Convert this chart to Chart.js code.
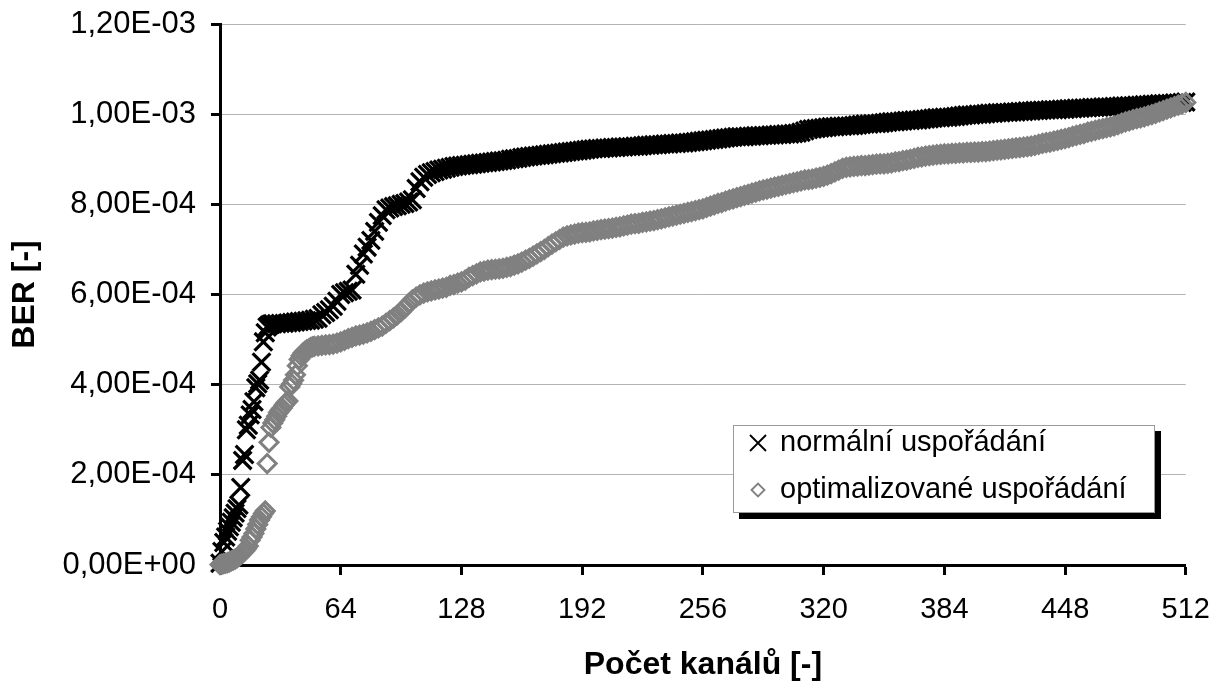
<!DOCTYPE html>
<html>
<head>
<meta charset="utf-8">
<script src="https://cdn.jsdelivr.net/npm/chart.js@4.4.0/dist/chart.umd.min.js"></script>
<style>
  body { margin: 0; background: #fff; }
  #wrap { width: 1228px; height: 688px; }
</style>
</head>
<body>
<div id="wrap"><canvas id="berChart"></canvas></div>
<script>
const range = (a, b, step) => { const out = []; for (let c = a; c <= b; c += step) out.push(c); return out; };

const normalChannels = range(0, 27, 1).concat(range(28, 512, 2));
const normalBer = [
  0.04, 0.3, 0.5, 0.62, 0.75, 0.85, 0.95, 1.05, 1.15, 1.25, 1.33, 1.72, 2.32, 2.45, 3.0, 3.1, 3.33, 3.45, 3.62, 3.93, 4.02, 4.1, 4.5, 4.95, 5.15, 5.28, 5.32, 5.34,
  5.35, 5.35, 5.36, 5.36, 5.37, 5.38, 5.39, 5.4, 5.41, 5.42, 5.43, 5.45, 5.47,
  5.55, 5.6, 5.66, 5.74, 5.85, 6.0,
  6.04, 6.07, 6.1,
  6.45, 6.65, 6.9, 7.05, 7.2, 7.4, 7.6, 7.75, 7.88,
  7.92, 7.95, 7.97, 8.0, 8.02, 8.05, 8.1,
  8.35, 8.5, 8.6, 8.66, 8.7, 8.73, 8.76, 8.78, 8.8,
  8.82, 8.84, 8.85, 8.86, 8.87, 8.88, 8.89, 8.9, 8.91, 8.92, 8.93, 8.94, 8.95, 8.96, 8.97, 8.98, 9.0, 9.01, 9.02, 9.04,
  9.05, 9.06, 9.07, 9.08, 9.09, 9.1, 9.11, 9.12, 9.13, 9.14, 9.15, 9.16, 9.17, 9.18, 9.19, 9.2, 9.21, 9.22, 9.23, 9.24,
  9.24, 9.25, 9.25, 9.26, 9.26, 9.27, 9.27, 9.28, 9.28, 9.29, 9.29, 9.3, 9.31, 9.31, 9.32, 9.32, 9.33, 9.34, 9.34, 9.35,
  9.35, 9.36, 9.36, 9.37, 9.38, 9.39, 9.4, 9.41, 9.42, 9.43, 9.44, 9.45, 9.46, 9.47, 9.48, 9.49, 9.5, 9.5, 9.5, 9.51,
  9.51, 9.52, 9.52, 9.53, 9.53, 9.54, 9.54, 9.55, 9.55, 9.56, 9.56, 9.57, 9.58, 9.6, 9.63, 9.66, 9.67, 9.68, 9.69, 9.7,
  9.71, 9.72, 9.72, 9.73, 9.73, 9.74, 9.74, 9.75, 9.76, 9.77, 9.78, 9.78, 9.79, 9.79, 9.8, 9.81, 9.82, 9.83, 9.83, 9.84,
  9.85, 9.86, 9.86, 9.87, 9.87, 9.88, 9.89, 9.9, 9.91, 9.92, 9.92, 9.93, 9.93, 9.94, 9.95, 9.96, 9.97, 9.98, 9.98, 9.99,
  10.0, 10.0, 10.01, 10.02, 10.02, 10.03, 10.03, 10.04, 10.04, 10.05, 10.05, 10.06, 10.06, 10.07, 10.07, 10.08, 10.08, 10.09, 10.09, 10.1,
  10.1, 10.1, 10.11, 10.11, 10.12, 10.12, 10.13, 10.13, 10.14, 10.14, 10.15, 10.15, 10.15, 10.16, 10.16, 10.16, 10.17, 10.17, 10.18, 10.18,
  10.19, 10.19, 10.2, 10.2, 10.21, 10.21, 10.22, 10.22, 10.23, 10.23, 10.24, 10.24, 10.25, 10.25, 10.26, 10.27];

const optimChannels = range(0, 49, 1).concat(range(50, 512, 2));
const optimBer = [
  0.01, 0.02, 0.03, 0.04, 0.05, 0.07, 0.09, 0.11, 0.13, 0.16, 0.19, 0.23, 0.27, 0.31, 0.36, 0.42, 0.55, 0.62, 0.7, 0.8,
  0.9, 1.0, 1.07, 1.14, 1.2, 2.25, 2.72, 3.05, 3.15, 3.22, 3.3, 3.38, 3.44, 3.48, 3.55, 3.6, 3.64, 3.95, 4.02, 4.1,
  4.22, 4.42, 4.56, 4.64, 4.7, 4.74, 4.77, 4.79, 4.82, 4.84,
  4.85, 4.86, 4.87, 4.88, 4.89, 4.9, 4.92, 4.95, 4.98, 5.02, 5.05,
  5.08, 5.1, 5.12, 5.15, 5.18, 5.22, 5.26, 5.3, 5.36, 5.42, 5.48, 5.55, 5.62, 5.7, 5.8,
  5.88, 5.94, 5.99, 6.03, 6.06, 6.08, 6.1, 6.12, 6.14, 6.16, 6.2, 6.22, 6.25, 6.28, 6.32,
  6.38, 6.42, 6.46, 6.5, 6.52, 6.54, 6.55, 6.56, 6.57, 6.58, 6.6, 6.62, 6.65, 6.68, 6.72,
  6.76, 6.8, 6.85, 6.9, 6.95, 7.0, 7.06, 7.12, 7.17, 7.22, 7.27, 7.3, 7.32, 7.34, 7.36,
  7.37, 7.38, 7.39, 7.41, 7.42, 7.44, 7.45, 7.46, 7.47, 7.49, 7.5, 7.52, 7.54, 7.56, 7.57,
  7.58, 7.6, 7.61, 7.63, 7.64, 7.66, 7.68, 7.7, 7.72, 7.74, 7.76, 7.78, 7.8, 7.82, 7.84,
  7.86, 7.88, 7.9, 7.93, 7.96, 7.99, 8.02, 8.04, 8.07, 8.1, 8.12, 8.15, 8.17, 8.2, 8.22,
  8.25, 8.27, 8.3, 8.32, 8.34, 8.36, 8.38, 8.4, 8.42, 8.44, 8.46, 8.48, 8.5, 8.52, 8.54,
  8.55, 8.56, 8.58, 8.6, 8.62, 8.65, 8.68, 8.72, 8.76, 8.8, 8.82, 8.83, 8.84, 8.85, 8.86,
  8.86, 8.87, 8.88, 8.89, 8.9, 8.9, 8.91, 8.92, 8.94, 8.95, 8.97, 8.98, 9.0, 9.02, 9.04,
  9.05, 9.07, 9.08, 9.09, 9.1, 9.11, 9.12, 9.12, 9.13, 9.13, 9.14, 9.14, 9.15, 9.15, 9.16,
  9.16, 9.17, 9.17, 9.18, 9.19, 9.2, 9.21, 9.22, 9.23, 9.24, 9.25, 9.26, 9.27, 9.28, 9.29,
  9.31, 9.33, 9.35, 9.37, 9.38, 9.4, 9.42, 9.44, 9.46, 9.48, 9.51, 9.53, 9.55, 9.57, 9.6,
  9.62, 9.64, 9.66, 9.68, 9.7, 9.72, 9.74, 9.77, 9.8, 9.83, 9.85, 9.88, 9.9, 9.92, 9.94,
  9.97, 9.99, 10.02, 10.05, 10.08, 10.11, 10.14, 10.17, 10.2, 10.23, 10.26];

const seriesNames = ['normální uspořádání', 'optimalizované uspořádání'];
const xTickLabels = ['0', '64', '128', '192', '256', '320', '384', '448', '512'];
const yTickLabels = ['0,00E+00', '2,00E-04', '4,00E-04', '6,00E-04', '8,00E-04', '1,00E-03', '1,20E-03'];

const FONT = 'Arial, "Liberation Sans", sans-serif';

const toPoints = (xs, ys) => xs.map((x, i) => ({ x: x, y: ys[i] * 1e-4 }));

// legend box with hard shadow, like the Excel original
const legendBox = {
    id: 'legendBox',
    afterDraw(chart) {
        const ctx = chart.ctx;
        const left = 733, top = 425, w = 422, h = 88;
        ctx.save();
        ctx.fillStyle = '#000';
        ctx.fillRect(left + 6, top + 6, w, h);
        ctx.fillStyle = '#fff';
        ctx.fillRect(left, top, w, h);
        ctx.strokeStyle = '#9a9a9a';
        ctx.lineWidth = 1;
        ctx.strokeRect(left + 0.5, top + 0.5, w - 1, h - 1);

        // cross marker
        const mx = 758, y1 = 443, y2 = 490;
        ctx.strokeStyle = '#000';
        ctx.lineWidth = 1.8;
        ctx.beginPath();
        ctx.moveTo(mx - 8, y1 - 8); ctx.lineTo(mx + 8, y1 + 8);
        ctx.moveTo(mx + 8, y1 - 8); ctx.lineTo(mx - 8, y1 + 8);
        ctx.stroke();
        // diamond marker
        ctx.strokeStyle = '#808080';
        ctx.lineWidth = 1.8;
        ctx.beginPath();
        ctx.moveTo(mx - 6.5, y2); ctx.lineTo(mx, y2 - 6.5);
        ctx.lineTo(mx + 6.5, y2); ctx.lineTo(mx, y2 + 6.5);
        ctx.closePath();
        ctx.stroke();

        ctx.fillStyle = '#000';
        ctx.font = '29px ' + FONT;
        ctx.textBaseline = 'middle';
        ctx.fillText(seriesNames[0], 780, y1);
        ctx.fillText(seriesNames[1], 780, y2);
        ctx.restore();
    }
};

new Chart(document.getElementById('berChart'), {
    type: 'scatter',
    data: {
        datasets: [{
            label: seriesNames[0],
            data: toPoints(normalChannels, normalBer),
            pointStyle: 'crossRot',
            pointRadius: 12.5,
            borderColor: '#000',
            backgroundColor: '#000',
            borderWidth: 3.2,
            clip: false,
            order: 1
        }, {
            label: seriesNames[1],
            data: toPoints(optimChannels, optimBer),
            pointStyle: 'rectRot',
            pointRadius: 9,
            borderColor: '#808080',
            backgroundColor: 'rgba(0,0,0,0)',
            borderWidth: 3,
            clip: false,
            order: 0
        }]
    },
    options: {
        responsive: true,
        maintainAspectRatio: false,
        animation: false,
        layout: { padding: { left: 0, right: 39, top: 24, bottom: 0 } },
        plugins: {
            legend: { display: false },
            tooltip: { enabled: false }
        },
        scales: {
            x: {
                type: 'linear',
                min: 0,
                max: 512,
                afterFit: s => { s.height = 123; },
                ticks: {
                    stepSize: 64,
                    padding: 18,
                    color: '#000',
                    font: { family: FONT, size: 29 },
                    callback: (v, i) => xTickLabels[i]
                },
                grid: { drawOnChartArea: false, tickLength: 10, tickColor: '#000', tickWidth: 3 },
                border: { color: '#000', width: 3 },
                title: {
                    display: true,
                    text: 'Počet kanálů [-]',
                    color: '#000',
                    font: { family: FONT, size: 32, weight: 'bold' },
                    padding: { top: 0, bottom: 4 }
                }
            },
            y: {
                min: 0,
                max: 0.0012,
                afterFit: s => { s.width = 220; s.paddingTop = 0; s.paddingBottom = 0; },
                ticks: {
                    stepSize: 0.0002,
                    padding: 15,
                    color: '#000',
                    font: { family: FONT, size: 31 },
                    callback: (v, i) => yTickLabels[i]
                },
                grid: { color: '#b4b4b4', lineWidth: 1, tickLength: 9, tickColor: '#000', tickWidth: 3 },
                border: { color: '#000', width: 3 },
                title: {
                    display: true,
                    text: 'BER [-]',
                    color: '#000',
                    font: { family: FONT, size: 32, weight: 'bold' },
                    padding: { top: 6, bottom: 0 }
                }
            }
        }
    },
    plugins: [legendBox]
});
</script>
</body>
</html>
